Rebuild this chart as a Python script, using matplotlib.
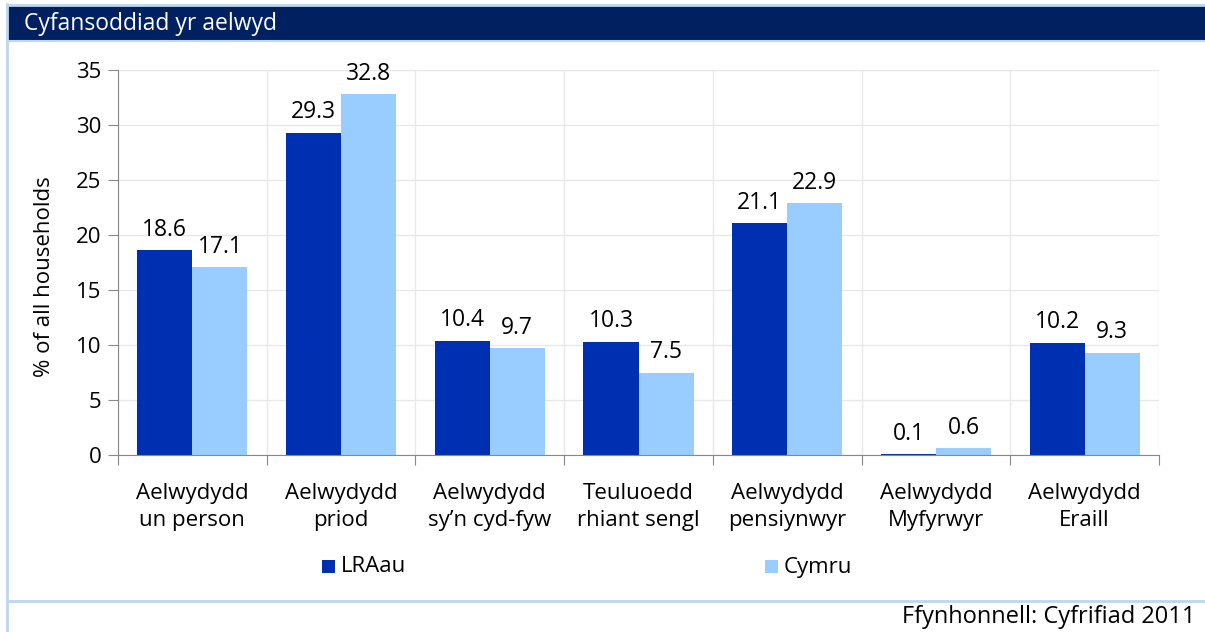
import numpy as np
import matplotlib.pyplot as plt
from matplotlib.patches import Rectangle
from matplotlib.lines import Line2D

# Data
categories = ["Aelwydydd\nun person", "Aelwydydd\npriod", "Aelwydydd\nsy\u2019n cyd-fyw",
              "Teuluoedd\nrhiant sengl", "Aelwydydd\npensiynwyr", "Aelwydydd\nMyfyrwyr",
              "Aelwydydd\nEraill"]
lraau = [18.6, 29.3, 10.4, 10.3, 21.1, 0.1, 10.2]
cymru = [17.1, 32.8, 9.7, 7.5, 22.9, 0.6, 9.3]
series_names = ["LRAau", "Cymru"]
title = "Cyfansoddiad yr aelwyd"
source = "Ffynhonnell: Cyfrifiad 2011"

dark = "#0030B2"
light = "#99CCFF"
navy = "#002060"
frame = "#BDD7EE"
fs = 16

plt.rcParams['font.family'] = ['Open Sans', 'DejaVu Sans']

W, H = 1205, 632
fig = plt.figure(figsize=(W / 100, H / 100), dpi=100)

# frame / title bar
fig.add_artist(Line2D([7 / W, 7 / W], [0, 1 - 4 / H], transform=fig.transFigure, color=frame, lw=2))
fig.add_artist(Line2D([7 / W, 1], [1 - 5 / H, 1 - 5 / H], transform=fig.transFigure, color=frame, lw=2))
fig.add_artist(Rectangle((8 / W, 1 - 40 / H), 1 - 8 / W, 34 / H, transform=fig.transFigure,
                         facecolor=navy, edgecolor="none"))
fig.add_artist(Line2D([8 / W, 1], [1 - 41 / H, 1 - 41 / H], transform=fig.transFigure, color=frame, lw=1.5))
fig.text(24 / W, 1 - 24 / H, title, color="white", fontsize=16.5, va="center", ha="left")
fig.add_artist(Line2D([7 / W, 1], [1 - 601 / H, 1 - 601 / H], transform=fig.transFigure, color=frame, lw=2))
fig.text(1195 / W, 1 - 617 / H, source, fontsize=17, va="center", ha="right")

ax = fig.add_axes([118 / W, 177 / H, (1159 - 118) / W, (455 - 70) / H])
x = np.arange(len(categories))
bw = 0.37
b1 = ax.bar(x - bw / 2, lraau, bw, color=dark, zorder=3)
b2 = ax.bar(x + bw / 2, cymru, bw, color=light, zorder=3)
for bars, vals in ((b1, lraau), (b2, cymru)):
    for r, v in zip(bars, vals):
        ax.annotate(f"{v:.1f}", (r.get_x() + r.get_width() / 2, v), xytext=(0, 6),
                    textcoords="offset points", ha="center", va="bottom", fontsize=16.5)

ax.set_xlim(-0.5, len(categories) - 0.5)
ax.set_ylim(0, 35)
ax.set_yticks(range(0, 36, 5))
ax.set_xticks(np.arange(-0.5, len(categories), 1))
ax.set_xticklabels([])
ax.set_xticks(x, minor=True)
ax.set_xticklabels(categories, minor=True, fontsize=fs, linespacing=1.4)
ax.tick_params(axis="x", which="minor", length=0, pad=20)
ax.tick_params(axis="x", which="major", length=7, color="#888888", direction="out")
ax.tick_params(axis="y", length=7, color="#888888", labelsize=fs, pad=5)
ax.grid(True, which="major", color="#E8E8E8", lw=1, zorder=0)
for s in ("top", "right"):
    ax.spines[s].set_visible(False)
for s in ("left", "bottom"):
    ax.spines[s].set_color("#888888")
ax.spines["bottom"].set_zorder(4)
ax.set_ylabel("% of all households", fontsize=fs)
ax.yaxis.set_label_coords(-63 / (1159 - 118), (455 - 277) / 385)

# legend
for (lx, name, col) in ((322, series_names[0], dark), (765, series_names[1], light)):
    fig.add_artist(Rectangle((lx / W, 1 - 573 / H), 13 / W, 13 / H, transform=fig.transFigure,
                             facecolor=col, edgecolor="none"))
    fig.text((lx + 19) / W, 1 - 567 / H, name, fontsize=fs, va="center", ha="left")

fig.savefig("out.png", dpi=100)
